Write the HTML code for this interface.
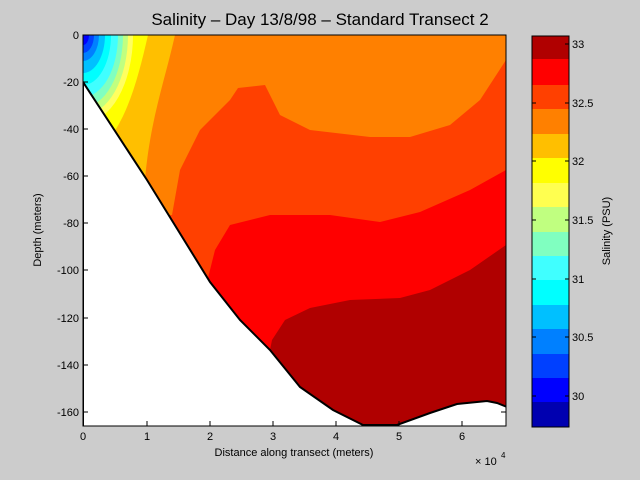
<!DOCTYPE html>
<html><head><style>
body{margin:0;background:#cccccc;}
svg{display:block;font-family:"Liberation Sans",sans-serif;}
</style></head><body>
<svg width="640" height="480" viewBox="0 0 640 480">
<rect width="640" height="480" fill="#cccccc"/>
<defs><clipPath id="c"><rect x="83" y="35" width="423" height="391"/></clipPath></defs>
<g clip-path="url(#c)">
<rect x="83" y="35" width="423" height="391" fill="#b00000"/>
<path d="M83,35 L506,35 L506,245 L470,270 L430,290 L400,298 L350,300 L310,308 L285,320 L272,340 L268,360 L83,426 Z" fill="#ff0000"/>
<path d="M83,35 L506,35 L506,170 L470,190 L420,212 L380,222 L330,215 L270,215 L230,225 L215,250 L205,290 L83,300 Z" fill="#ff4000"/>
<path d="M83,35 L506,35 L506,60 L480,100 L450,125 L410,137 L370,137 L310,130 L280,115 L265,85 L238,88 L230,100 L200,130 L180,170 L172,215 L83,215 Z" fill="#ff8000"/>
<path d="M83,35 L175,35 C165,80 150,120 145,180 L83,180 Z" fill="#ffbf00"/>
<path d="M83,35 L148,35 C140,70 130,110 112,135 L83,135 Z" fill="#ffff00"/>
<path d="M83,35 L133,35 A50 88 0 0 1 83,123 Z" fill="#ffff60"/>
<path d="M83,35 L128,35 A45 80 0 0 1 83,115 Z" fill="#c0ff80"/>
<path d="M83,35 L123,35 A40 72 0 0 1 83,107 Z" fill="#80ffc0"/>
<path d="M83,35 L118,35 A35 62 0 0 1 83,97 Z" fill="#40ffff"/>
<path d="M83,35 L111,35 A28 50 0 0 1 83,85 Z" fill="#00ffff"/>
<path d="M83,35 L105,35 A22 38 0 0 1 83,73 Z" fill="#00c0ff"/>
<path d="M83,35 L99,35 A16 26 0 0 1 83,61 Z" fill="#0080ff"/>
<path d="M83,35 L94,35 A11 18 0 0 1 83,53 Z" fill="#0040ff"/>
<path d="M83,35 L89,35 A6 10 0 0 1 83,45 Z" fill="#0000ff"/>
<path d="M83,82 L147,180 L210,282 L240,320 L270,350 L300,387 L333,410 L363,425 L397,425 L430,413 L457,404 L487,401 L497,403 L507,407 L507,427 L83,427 Z" fill="#fff" stroke="#000" stroke-width="2"/>
</g>
<rect x="83" y="35" width="423" height="391" fill="none" stroke="#000" stroke-width="1"/>
<g stroke="#000" stroke-width="1">
<line x1="83" y1="426" x2="83" y2="421"/><line x1="147" y1="426" x2="147" y2="421"/><line x1="210" y1="426" x2="210" y2="421"/><line x1="273" y1="426" x2="273" y2="421"/><line x1="336" y1="426" x2="336" y2="421"/><line x1="399" y1="426" x2="399" y2="421"/><line x1="462" y1="426" x2="462" y2="421"/>
<line x1="83" y1="35" x2="88" y2="35"/><line x1="83" y1="82" x2="88" y2="82"/><line x1="83" y1="129" x2="88" y2="129"/><line x1="83" y1="176" x2="88" y2="176"/><line x1="83" y1="223" x2="88" y2="223"/><line x1="83" y1="270" x2="88" y2="270"/><line x1="83" y1="318" x2="88" y2="318"/><line x1="83" y1="365" x2="88" y2="365"/><line x1="83" y1="412" x2="88" y2="412"/>
<line x1="506" y1="412" x2="501" y2="412"/>
</g>
<g font-size="11" fill="#000" text-anchor="middle">
<text x="83" y="440">0</text><text x="147" y="440">1</text><text x="210" y="440">2</text><text x="273" y="440">3</text><text x="336" y="440">4</text><text x="399" y="440">5</text><text x="462" y="440">6</text>
</g>
<g font-size="11" fill="#000" text-anchor="end">
<text x="79" y="39">0</text><text x="79" y="86">-20</text><text x="79" y="133">-40</text><text x="79" y="180">-60</text><text x="79" y="227">-80</text><text x="79" y="274">-100</text><text x="79" y="322">-120</text><text x="79" y="369">-140</text><text x="79" y="416">-160</text>
</g>
<text x="294" y="456" font-size="11" text-anchor="middle">Distance along transect (meters)</text>
<text x="475" y="465" font-size="11">× 10</text><text x="501" y="458" font-size="8">4</text>
<text transform="translate(41,230) rotate(-90)" font-size="11" text-anchor="middle">Depth (meters)</text>
<text x="320" y="25" font-size="17" text-anchor="middle">Salinity – Day 13/8/98 – Standard Transect 2</text>
<g>
<rect x="532" y="36" width="37" height="24" fill="#b00000"/>
<rect x="532" y="59" width="37" height="26" fill="#ff0000"/>
<rect x="532" y="85" width="37" height="25" fill="#ff4000"/>
<rect x="532" y="109" width="37" height="25" fill="#ff8000"/>
<rect x="532" y="134" width="37" height="24" fill="#ffbf00"/>
<rect x="532" y="158" width="37" height="25" fill="#ffff00"/>
<rect x="532" y="183" width="37" height="25" fill="#ffff50"/>
<rect x="532" y="207" width="37" height="25" fill="#c0ff80"/>
<rect x="532" y="232" width="37" height="24" fill="#80ffc0"/>
<rect x="532" y="256" width="37" height="25" fill="#40ffff"/>
<rect x="532" y="280" width="37" height="25" fill="#00ffff"/>
<rect x="532" y="305" width="37" height="24" fill="#00c0ff"/>
<rect x="532" y="329" width="37" height="25" fill="#0080ff"/>
<rect x="532" y="354" width="37" height="24" fill="#0040ff"/>
<rect x="532" y="378" width="37" height="25" fill="#0000ff"/>
<rect x="532" y="402" width="37" height="25" fill="#0000b0"/>
<rect x="532" y="36" width="37" height="391" fill="none" stroke="#000"/>
</g>
<g stroke="#000">
<line x1="565" y1="44" x2="569" y2="44"/><line x1="565" y1="103" x2="569" y2="103"/><line x1="565" y1="161" x2="569" y2="161"/><line x1="565" y1="220" x2="569" y2="220"/><line x1="565" y1="279" x2="569" y2="279"/><line x1="565" y1="337" x2="569" y2="337"/><line x1="565" y1="396" x2="569" y2="396"/>
<line x1="532" y1="103" x2="536" y2="103"/><line x1="532" y1="161" x2="536" y2="161"/><line x1="532" y1="220" x2="536" y2="220"/><line x1="532" y1="279" x2="536" y2="279"/><line x1="532" y1="337" x2="536" y2="337"/><line x1="532" y1="396" x2="536" y2="396"/>
</g>
<g font-size="11" fill="#000">
<text x="572" y="48">33</text><text x="572" y="107">32.5</text><text x="572" y="165">32</text><text x="572" y="224">31.5</text><text x="572" y="283">31</text><text x="572" y="341">30.5</text><text x="572" y="400">30</text>
</g>
<text transform="translate(610,231) rotate(-90)" font-size="11" text-anchor="middle">Salinity (PSU)</text>
</svg>
</body></html>
